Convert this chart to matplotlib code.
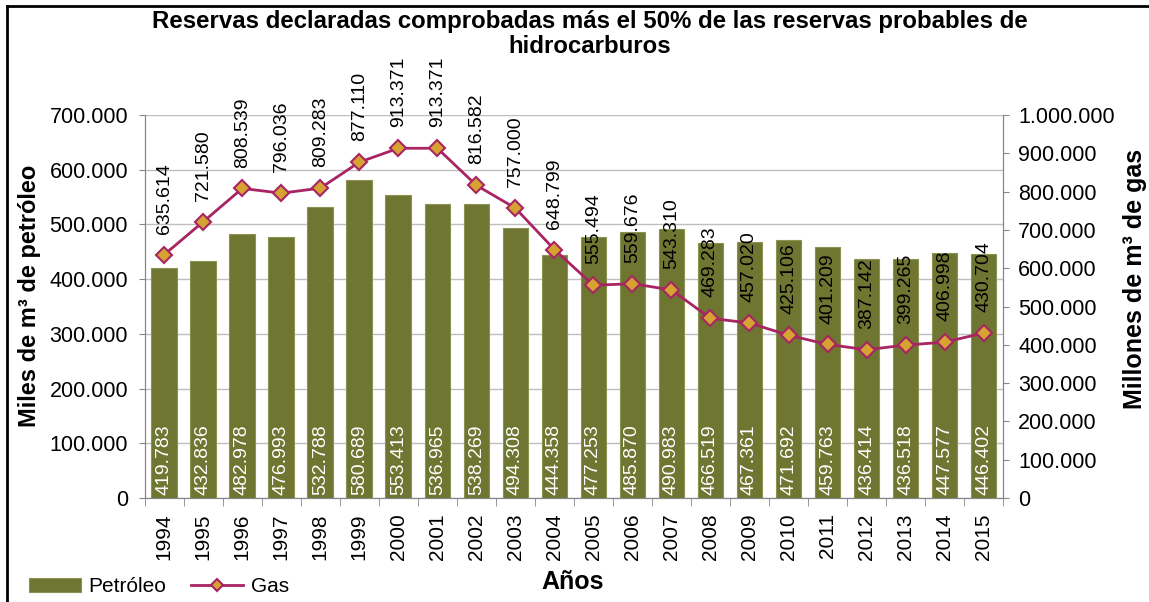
import numpy as np
import matplotlib.pyplot as plt
from matplotlib.ticker import FuncFormatter, MultipleLocator

plt.rcParams['font.family'] = ['Liberation Sans', 'DejaVu Sans']

# Datos
years = ['1994', '1995', '1996', '1997', '1998', '1999', '2000', '2001', '2002', '2003', '2004',
         '2005', '2006', '2007', '2008', '2009', '2010', '2011', '2012', '2013', '2014', '2015']
petroleo = [419783, 432836, 482978, 476993, 532788, 580689, 553413, 536965, 538269, 494308, 444358,
            477253, 485870, 490983, 466519, 467361, 471692, 459763, 436414, 436518, 447577, 446402]
gas = [635614, 721580, 808539, 796036, 809283, 877110, 913371, 913371, 816582, 757000, 648799,
       555494, 559676, 543310, 469283, 457020, 425106, 401209, 387142, 399265, 406998, 430704]

bar_color = '#6E7631'
line_color = '#A82462'
marker_color = '#D6A232'
axis_gray = '#868686'


def miles(v):
    return f'{int(round(v)):,}'.replace(',', '.')


fig = plt.figure(figsize=(11.49, 6.02), dpi=100)
ax = fig.add_axes([0.126, 0.1728, 0.747, 0.636])
ax2 = ax.twinx()

x = np.arange(len(years))
ax.bar(x, petroleo, width=0.66, color=bar_color, edgecolor='#8C9352', linewidth=0.8,
       zorder=2, label='Petróleo')
ax.set_ylim(0, 700000)
ax.set_xlim(-0.5, len(years) - 0.5)
ax.yaxis.set_major_locator(MultipleLocator(100000))
ax.yaxis.set_major_formatter(FuncFormatter(lambda v, p: miles(v)))
ax.grid(axis='y', color='#BFBFBF', linewidth=1, zorder=0)
ax.set_axisbelow(True)

for xi, v in zip(x, petroleo):
    ax.text(xi, 5000, miles(v), rotation=90, ha='center', va='bottom', color='white',
            fontsize=14, zorder=3)

ax2.plot(x, gas, color=line_color, linewidth=2, marker='D', markersize=8,
         markerfacecolor=marker_color, markeredgecolor=line_color, markeredgewidth=1.5,
         zorder=4, label='Gas')
ax2.set_ylim(0, 1000000)
ax2.yaxis.set_major_locator(MultipleLocator(100000))
ax2.yaxis.set_major_formatter(FuncFormatter(lambda v, p: miles(v)))
for xi, v in zip(x, gas):
    ax2.annotate(miles(v), (xi, v), xytext=(0, 15), textcoords='offset points', rotation=90,
                 ha='center', va='bottom', fontsize=14, color='black', zorder=5)

ax.set_xticks(x)
ax.set_xticklabels(years, rotation=90, fontsize=15)
ax.set_xticks(np.arange(-0.5, len(years), 1), minor=True)
ax.tick_params(axis='x', which='major', length=0, pad=11)
ax.tick_params(axis='x', which='minor', length=6, color=axis_gray)
ax.tick_params(axis='y', labelsize=15.5, length=4, color=axis_gray, pad=8)
ax2.tick_params(axis='y', labelsize=15.5, length=4, color=axis_gray, pad=7)

for a in (ax, ax2):
    a.spines['top'].set_visible(False)
    for s in ('left', 'right', 'bottom'):
        a.spines[s].set_color(axis_gray)

fig.suptitle('Reservas declaradas comprobadas más el 50% de las reservas probables de\nhidrocarburos',
             x=0.513, y=0.983, fontsize=17.3, fontweight='bold', linespacing=1.1)
fig.text(0.026, 0.508, 'Miles de m³ de petróleo', rotation=90, ha='center', va='center',
         fontsize=17, fontweight='bold')
fig.text(0.988, 0.537, 'Millones de m³ de gas', rotation=90, ha='center', va='center',
         fontsize=18, fontweight='bold')
fig.text(0.498, 0.033, 'Años', ha='center', va='center', fontsize=18, fontweight='bold')

h1, l1 = ax.get_legend_handles_labels()
h2, l2 = ax2.get_legend_handles_labels()
fig.legend(h1 + h2, l1 + l2, loc='center left', bbox_to_anchor=(0.018, 0.025), ncol=2,
           frameon=False, fontsize=15, handlelength=2.5, handleheight=0.7,
           columnspacing=1.2, handletextpad=0.35, borderaxespad=0, markerscale=0.8)

# marco del gráfico
fig.add_artist(plt.Line2D([0.0065, 0.0065], [0, 0.99], transform=fig.transFigure,
                          color='black', linewidth=2))
fig.add_artist(plt.Line2D([0.0065, 1], [0.99, 0.99], transform=fig.transFigure,
                          color='black', linewidth=2))

fig.savefig('out.png', dpi=100)
